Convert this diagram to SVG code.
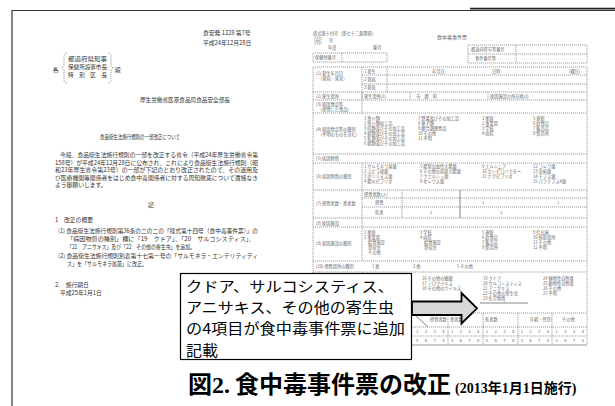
<svg xmlns="http://www.w3.org/2000/svg" width="615" height="406" viewBox="0 0 615 406">
<style>
.t{font-family:"Noto Sans CJK JP","Noto Sans",sans-serif;font-size:5.8px;fill:#333}
.f{font-family:"Noto Sans CJK JP","Noto Sans",sans-serif;font-size:4.2px;fill:#666}
.d{stroke:#888;stroke-width:0.8;stroke-dasharray:1.2 0.8;fill:none}
.s{stroke:#666;stroke-width:0.8;fill:none}
.c{font-family:"Noto Sans CJK JP","Noto Sans",sans-serif;font-size:14.6px;fill:#000}
</style>
<rect width="615" height="406" fill="#fff"/>
<g id="frame">
<path d="M12 10.5H615M12 10V406" stroke="#333" stroke-width="1.2" fill="none"/>
<path d="M470 8.6H615" stroke="#222" stroke-width="1.6"/>
</g>
<g id="notice">
<text class="t" x="203" y="35">食安発 1228 第7号</text>
<text class="t" x="203" y="45">平成24年12月28日</text>
<text class="t" x="53" y="72">各</text>
<path d="M67 53q-3 0-3 4v9l-2 2l2 2v9q0 4 3 4M108 53q3 0 3 4v9l2 2l-2 2v9q0 4-3 4" class="d"/>
<text class="t" x="68" y="61" textLength="39" lengthAdjust="spacingAndGlyphs">都道府県知事</text>
<text class="t" x="68" y="69" textLength="39" lengthAdjust="spacingAndGlyphs">保健所設置市長</text>
<text class="t" x="68" y="77" textLength="39" lengthAdjust="spacingAndGlyphs">特　別　区　長</text>
<text class="t" x="115" y="72">殿</text>
<text class="t" x="140" y="102" textLength="90" lengthAdjust="spacingAndGlyphs">厚生労働省医薬食品局食品安全部長</text>
<text class="t" x="100" y="139" textLength="80" lengthAdjust="spacingAndGlyphs">食品衛生法施行規則の一部改正について</text>
<text class="t" x="60" y="157" textLength="198" lengthAdjust="spacingAndGlyphs">今般、食品衛生法施行規則の一部を改正する省令（平成24年厚生労働省令第</text>
<text class="t" x="55" y="164.5" textLength="203" lengthAdjust="spacingAndGlyphs">158号）が平成24年12月28日に公布され、これにより食品衛生法施行規則（昭</text>
<text class="t" x="55" y="172" textLength="203" lengthAdjust="spacingAndGlyphs">和23年厚生省令第23号）の一部が下記のとおり改正されたので、その運用及</text>
<text class="t" x="55" y="179.5" textLength="203" lengthAdjust="spacingAndGlyphs">び医療機関等関係者をはじめ食中毒関係者に対する周知徹底について遺憾なき</text>
<text class="t" x="55" y="187">よう御願いします。</text>
<text class="t" x="148" y="207">記</text>
<text class="t" x="55" y="222">1　改正の概要</text>
<text class="t" x="58" y="233" textLength="200" lengthAdjust="spacingAndGlyphs">(1) 食品衛生法施行規則第36条の二の二の「様式第十四号（食中毒事件票）」の</text>
<text class="t" x="67" y="241" textLength="188" lengthAdjust="spacingAndGlyphs">「病因物質の種別」欄に「19　クドア」、「20　サルコシスティス」、</text>
<text class="t" x="67" y="249" textLength="128" lengthAdjust="spacingAndGlyphs">「21　アニサキス」及び「22　その他の寄生虫」を追加。</text>
<text class="t" x="58" y="258" textLength="200" lengthAdjust="spacingAndGlyphs">(2) 食品衛生法施行規則別表第十七第一号の「サルモネラ・エンテリティディ</text>
<text class="t" x="67" y="266" textLength="80" lengthAdjust="spacingAndGlyphs">ス」を「サルモネラ属菌」に改正。</text>
<text class="t" x="55" y="287">2.　施行期日</text>
<text class="t" x="60" y="295">平成25年1月1日</text>
</g>
<g id="form">
<text class="f" x="313" y="35">様式第十四号（第七十二条関係）</text>
<text class="f" x="437" y="39" style="font-size:5px">食中毒事件票</text>
<rect x="315" y="37" width="6" height="7" class="d"/>
<text class="f" x="316" y="42">府</text>
<text class="f" x="329" y="42">号</text>
<text class="f" x="328" y="49">年度</text>
<text class="f" x="373" y="49">番号</text>
<rect x="313" y="53" width="74" height="9" class="d"/>
<path d="M342 53V62" class="d"/>
<text class="f" x="315" y="59">保健所番号</text>
<rect x="468" y="45" width="119" height="18" class="d"/>
<path d="M468 54H587M516 45V63" class="d"/>
<text class="f" x="471" y="51">都道府県市等番号</text>
<text class="f" x="475" y="60">事件番号等</text>
<rect x="313" y="67" width="274" height="278" class="d"/>
<path d="M362 67V115M387 67V92M362 75H587M362 84H587M313 92H587M313 100H587M313 113H587M313 154H587M313 163H587M313 190H587M362 198H587M362 207H587M313 218H587M313 227H587M313 261H587M313 272H587M313 313H587M313 327H587M313 336H587M313 345H587" class="d"/>
<path d="M362 92V100M410 92V100M488 92V100M362 163V261M402 190V218M362 272V345" class="d"/>
<path d="M460 190V218" class="s"/>
<path d="M448 313V345M483 313V345M518 313V345M552 313V345" class="d"/>
<path d="M413 313L428 327" class="s"/>
<text class="f" x="316" y="75">(1) 発生年月日</text>
<text class="f" x="318" y="80">（発病・発見）</text>
<text class="f" x="364" y="73">1 発生</text>
<text class="f" x="364" y="81">2 発病</text>
<text class="f" x="364" y="89">3 発見</text>
<text class="f" x="432" y="73">年月日</text>
<text class="f" x="492" y="73">日時</text>
<text class="f" x="569" y="73">(曜日)</text>
<text class="f" x="316" y="98">(2) 発生場所</text>
<text class="f" x="364" y="98">発生場所(1)</text>
<text class="f" x="412" y="98">　市　郡　町</text>
<text class="f" x="490" y="98">原因施設の所在地(2)</text>
<text class="f" x="316" y="106">(3) 原因食品等</text>
<text class="f" x="318" y="111">（摂食した食品）</text>
<text class="f" x="316" y="131">(4) 原因食品等の種別</text>
<text class="f" x="318" y="136">（不明のものを含む）</text>
<text class="f" x="364" y="120">1 魚介類</text>
<text class="f" x="364" y="125">2 魚介類加工品</text>
<text class="f" x="364" y="130">3 肉類及びその加工品</text>
<text class="f" x="364" y="135">4 卵類及びその加工品</text>
<text class="f" x="364" y="140">5 乳類及びその加工品</text>
<text class="f" x="364" y="145">6 穀類及びその加工品</text>
<text class="f" x="418" y="120">7 野菜及びその加工品</text>
<text class="f" x="418" y="125">8 菓子類</text>
<text class="f" x="418" y="130">9 複合調理食品</text>
<text class="f" x="418" y="135">10 その他</text>
<text class="f" x="418" y="140">11 不明</text>
<text class="f" x="482" y="120">1 家庭</text>
<text class="f" x="482" y="125">2 事業場</text>
<text class="f" x="482" y="130">3 学校</text>
<text class="f" x="482" y="135">4 病院</text>
<text class="f" x="533" y="120">5 旅館</text>
<text class="f" x="533" y="125">6 飲食店</text>
<text class="f" x="533" y="130">7 販売店</text>
<text class="f" x="533" y="135">8 製造所</text>
<text class="f" x="316" y="160">(5) 病因物質</text>
<text class="f" x="316" y="178">(6) 病因物質の種別</text>
<text class="f" x="364" y="168">1 サルモネラ属菌</text>
<text class="f" x="364" y="173">2 ぶどう球菌</text>
<text class="f" x="364" y="178">3 ボツリヌス菌</text>
<text class="f" x="364" y="183">4 腸炎ビブリオ</text>
<text class="f" x="420" y="168">5 腸管出血性大腸菌</text>
<text class="f" x="420" y="173">6 その他の病原大腸菌</text>
<text class="f" x="420" y="178">7 ウエルシュ菌</text>
<text class="f" x="420" y="183">8 セレウス菌</text>
<text class="f" x="482" y="168">9 エルシニア</text>
<text class="f" x="482" y="173">10 カンピロバクター</text>
<text class="f" x="482" y="178">11 ナグビブリオ</text>
<text class="f" x="533" y="168">12 コレラ菌</text>
<text class="f" x="533" y="173">13 赤痢菌</text>
<text class="f" x="533" y="178">14 チフス菌</text>
<text class="f" x="533" y="183">15 パラチフスA菌</text>
<text class="f" x="316" y="205">(7) 摂食者数・患者数</text>
<text class="f" x="364" y="196">摂食者数(人)</text>
<text class="f" x="375" y="204">摂食</text>
<text class="f" x="375" y="214">死者</text>
<text class="f" x="482" y="204">1</text>
<text class="f" x="557" y="204">1</text>
<text class="f" x="430" y="214">2</text>
<text class="f" x="500" y="214">3</text>
<text class="f" x="316" y="225">(8) 原因施設</text>
<text class="f" x="316" y="245">(9) 原因施設の種別</text>
<text class="f" x="364" y="234">1 家庭</text>
<text class="f" x="364" y="239">2 事業場</text>
<text class="f" x="368" y="244">給食施設</text>
<text class="f" x="368" y="249">寄宿舎</text>
<text class="f" x="368" y="254">その他</text>
<text class="f" x="420" y="234">3 学校</text>
<text class="f" x="420" y="239">4 病院</text>
<text class="f" x="424" y="244">給食施設</text>
<text class="f" x="424" y="249">寄宿舎</text>
<text class="f" x="482" y="234">5 旅館</text>
<text class="f" x="482" y="239">6 飲食店</text>
<text class="f" x="482" y="244">7 販売店</text>
<text class="f" x="482" y="249">8 製造所</text>
<text class="f" x="533" y="234">9 仕出屋</text>
<text class="f" x="533" y="239">10 採取場所</text>
<text class="f" x="533" y="244">11 その他</text>
<text class="f" x="533" y="249">12 不明</text>
<text class="f" x="316" y="268">(10) 摂食場所の種別</text>
<text class="f" x="372" y="268">1 家</text>
<text class="f" x="413" y="268">2 他</text>
<text class="f" x="457" y="268">5 その他</text>
<text class="f" x="422" y="280">16 その他の細菌</text>
<text class="f" x="422" y="285">17 ノロウイルス</text>
<text class="f" x="422" y="290">18 その他のウイルス</text>
<text class="f" x="483" y="280">19 クドア</text>
<text class="f" x="483" y="285">20 サルコシスティス</text>
<text class="f" x="483" y="290">21 アニサキス</text>
<text class="f" x="483" y="295">22 その他の寄生虫</text>
<text class="f" x="483" y="300">23 化学物質</text>
<text class="f" x="543" y="280">24 植物性自然毒</text>
<text class="f" x="543" y="285">25 動物性自然毒</text>
<text class="f" x="543" y="290">26 その他</text>
<text class="f" x="543" y="295">27 不明</text>
<path d="M480 303H528" class="s"/>
<text class="f" x="430" y="321">摂食者数</text>
<text class="f" x="450" y="321">患者数</text>
<text class="f" x="485" y="321">死者数</text>
<text class="f" x="530" y="321">年齢・性別</text>
<text class="f" x="562" y="321">その他</text>
<text class="f" x="416" y="333" textLength="168" lengthAdjust="spacing">1 2 3 4 1 2 3 4 1 2 3 4 1 2 3 4 1 2 3 4</text>
<text class="f" x="416" y="342" textLength="168" lengthAdjust="spacing">5 6 7 8 5 6 7 8 5 6 7 8 5 6 7 8 5 6 7 8</text>
</g>
<g id="callout">
<rect x="180.5" y="273.5" width="231" height="86" fill="#fff" stroke="#000" stroke-width="1.2"/>
<text class="c" x="186" y="292" textLength="208" lengthAdjust="spacingAndGlyphs">クドア、サルコシスティス、</text>
<text class="c" x="186" y="313.2" textLength="208" lengthAdjust="spacingAndGlyphs">アニサキス、その他の寄生虫</text>
<text class="c" x="186" y="334.4" textLength="219" lengthAdjust="spacingAndGlyphs">の4項目が食中毒事件票に追加</text>
<text class="c" x="186" y="355.6" textLength="32" lengthAdjust="spacingAndGlyphs">記載</text>
</g>
<g id="connectors">
<path d="M412 301.5H461.5V293L477 308.3L461.5 323.5V315H412Z" fill="#d8d8d8" stroke="#000" stroke-width="1.8" stroke-linejoin="miter"/>
</g>
<g id="caption">
<text x="188" y="393" font-weight="bold"><tspan font-family="'Noto Sans CJK JP',sans-serif" font-size="24">図</tspan><tspan font-family="'Liberation Serif',serif" font-size="24">2.</tspan><tspan font-family="'Noto Sans CJK JP',sans-serif" font-size="24" dx="5">食中毒事件票の改正</tspan><tspan font-family="'Liberation Serif','Noto Sans CJK JP',serif" font-size="14" dx="4">(2013年1月1日施行)</tspan></text>
</g>
</svg>
